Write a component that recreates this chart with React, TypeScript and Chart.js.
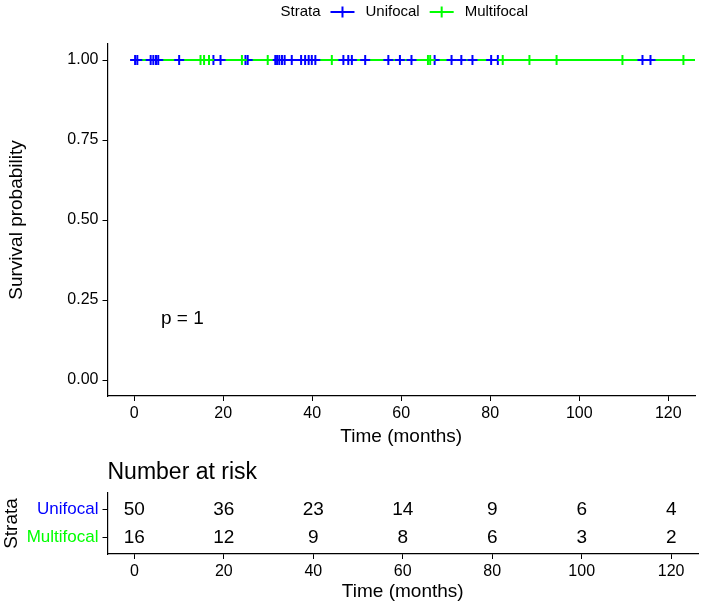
import React, { useEffect, useRef } from "react";
import { Chart, registerables } from "chart.js";

Chart.register(...registerables);

const FONT = "'Liberation Sans', Arial, Helvetica, sans-serif";
const BLUE = "#0000FF";
const GREEN = "#00FF00";

// ---- data ----
const strataNames = ["Unifocal", "Multifocal"];
const strataColors = [BLUE, GREEN];

// Kaplan-Meier step curves (time, survival)
const unifocalCurveTimes = [0, 116.0];
const unifocalCurveSurv = [1, 1];
const multifocalCurveTimes = [0, 126.0];
const multifocalCurveSurv = [1, 1];

// censoring times (months)
const unifocalCensorTimes = [
  0.2, 0.7, 3.7, 4.3, 4.9, 5.4, 10.1, 17.8, 19.4, 25.0, 25.5, 31.7, 32.1, 32.6,
  33.2, 33.8, 35.4, 37.5, 38.4, 39.2, 39.9, 40.7, 47.0, 48.1, 48.9, 51.9, 57.1,
  59.7, 62.3, 67.5, 71.3, 73.5, 76.0, 80.2, 81.7, 114.2, 116.0,
];
const multifocalCensorTimes = [
  14.9, 15.7, 16.8, 24.2, 30.0, 44.4, 66.0, 66.5, 82.8, 88.8, 94.9, 109.7, 123.4,
];

const survTicks = [0, 0.25, 0.5, 0.75, 1];
const timeTicks = [0, 20, 40, 60, 80, 100, 120];

// risk table
const riskTimes = [0, 20, 40, 60, 80, 100, 120];
const unifocalAtRisk = [50, 36, 23, 14, 9, 6, 4];
const multifocalAtRisk = [16, 12, 9, 8, 6, 3, 2];
const riskRowIndex = [2, 1]; // Unifocal top row, Multifocal bottom row

const pValueLabel = "p = 1";
const pValueX = 6;
const pValueY = 0.19;

function survAt(times: number[], surv: number[], t: number) {
  let s = surv[0];
  for (let i = 0; i < times.length; i++) if (times[i] <= t) s = surv[i];
  return s;
}

const legendPlugin = {
  id: "kmLegend",
  afterDraw(chart: any) {
    const ctx = chart.ctx;
    const ca = chart.chartArea;
    ctx.save();
    ctx.font = `15px ${FONT}`;
    ctx.textBaseline = "middle";
    ctx.textAlign = "left";
    const keyW = 24;
    const gapTitle = 10;
    const gapKey = 11;
    const gapItem = 10;
    const titleW = ctx.measureText("Strata").width;
    let total = titleW + gapTitle;
    strataNames.forEach((n, i) => {
      total += keyW + gapKey + ctx.measureText(n).width;
      if (i < strataNames.length - 1) total += gapItem;
    });
    let x = (ca.left + ca.right) / 2 + 3 - total / 2;
    const y = 12;
    ctx.fillStyle = "#000";
    ctx.fillText("Strata", x, y);
    x += titleW + gapTitle;
    strataNames.forEach((n, i) => {
      ctx.strokeStyle = strataColors[i];
      ctx.lineWidth = 2;
      ctx.beginPath();
      ctx.moveTo(x, y);
      ctx.lineTo(x + keyW, y);
      ctx.moveTo(x + keyW / 2, y - 5.5);
      ctx.lineTo(x + keyW / 2, y + 5.5);
      ctx.stroke();
      x += keyW + gapKey;
      ctx.fillStyle = "#000";
      ctx.fillText(n, x, y);
      x += ctx.measureText(n).width + gapItem;
    });
    ctx.restore();
  },
};

const pValuePlugin = {
  id: "pValue",
  afterDatasetsDraw(chart: any) {
    const ctx = chart.ctx;
    const px = chart.scales.x.getPixelForValue(pValueX);
    const py = chart.scales.y.getPixelForValue(pValueY);
    ctx.save();
    ctx.font = `19px ${FONT}`;
    ctx.fillStyle = "#000";
    ctx.textAlign = "left";
    ctx.textBaseline = "middle";
    ctx.fillText(pValueLabel, px, py);
    ctx.restore();
  },
};

const riskPlugin = {
  id: "riskText",
  afterDatasetsDraw(chart: any) {
    const ctx = chart.ctx;
    const ca = chart.chartArea;
    ctx.save();
    ctx.fillStyle = "#000";
    ctx.font = `23px ${FONT}`;
    ctx.textAlign = "left";
    ctx.textBaseline = "middle";
    ctx.fillText("Number at risk", ca.left, 13);
    ctx.font = `19px ${FONT}`;
    ctx.textAlign = "center";
    chart.data.datasets.forEach((ds: any, i: number) => {
      const meta = chart.getDatasetMeta(i);
      meta.data.forEach((el: any, j: number) => {
        ctx.fillText(String(ds.riskValues[j]), el.x, el.y);
      });
    });
    ctx.restore();
  },
};

function xScale(height: number, titleBottomPad: number) {
  return {
    type: "linear",
    min: -6,
    max: 126,
    afterBuildTicks: (s: any) => {
      s.ticks = timeTicks.map((v) => ({ value: v }));
    },
    afterFit: (s: any) => {
      s.height = height;
    },
    grid: { drawOnChartArea: false, drawTicks: true, tickLength: 5, color: "#000", lineWidth: 1 },
    border: { color: "#000", width: 1.2 },
    ticks: { font: { family: FONT, size: 16 }, color: "#000", padding: 3, maxRotation: 0, autoSkip: false },
    title: {
      display: true,
      text: "Time (months)",
      font: { family: FONT, size: 19 },
      color: "#000",
      padding: { top: 0, bottom: titleBottomPad },
    },
  };
}

export default function App() {
  const mainRef = useRef<HTMLCanvasElement | null>(null);
  const riskRef = useRef<HTMLCanvasElement | null>(null);

  useEffect(() => {
    const curve = (times: number[], surv: number[]) => times.map((t, i) => ({ x: t, y: surv[i] }));
    const marks = (ct: number[], times: number[], surv: number[]) =>
      ct.map((t) => ({ x: t, y: survAt(times, surv, t) }));

    const main = new Chart(mainRef.current as HTMLCanvasElement, {
      type: "scatter",
      data: {
        datasets: [
          {
            label: "Unifocal",
            data: curve(unifocalCurveTimes, unifocalCurveSurv),
            showLine: true,
            stepped: true,
            borderColor: BLUE,
            borderWidth: 2,
            pointRadius: 0,
            order: 3,
          },
          {
            label: "Multifocal",
            data: curve(multifocalCurveTimes, multifocalCurveSurv),
            showLine: true,
            stepped: true,
            borderColor: GREEN,
            borderWidth: 2,
            pointRadius: 0,
            order: 2,
          },
          {
            label: "Unifocal censored",
            data: marks(unifocalCensorTimes, unifocalCurveTimes, unifocalCurveSurv),
            showLine: false,
            pointStyle: "cross",
            pointRadius: 5,
            pointBorderWidth: 2,
            pointBorderColor: BLUE,
            pointBackgroundColor: BLUE,
            order: 1,
          },
          {
            label: "Multifocal censored",
            data: marks(multifocalCensorTimes, multifocalCurveTimes, multifocalCurveSurv),
            showLine: false,
            pointStyle: "cross",
            pointRadius: 5,
            pointBorderWidth: 2,
            pointBorderColor: GREEN,
            pointBackgroundColor: GREEN,
            order: 0,
          },
        ] as any,
      },
      options: {
        animation: false,
        responsive: false,
        events: [],
        layout: { padding: { top: 44, right: 4, left: 0, bottom: 0 } },
        plugins: { legend: { display: false }, tooltip: { enabled: false } },
        scales: {
          x: xScale(64, 11.6) as any,
          y: {
            type: "linear",
            min: -0.05,
            max: 1.05,
            afterBuildTicks: (s: any) => {
              s.ticks = survTicks.map((v) => ({ value: v }));
            },
            afterFit: (s: any) => {
              s.width = 107.5;
            },
            grid: { drawOnChartArea: false, drawTicks: true, tickLength: 5, color: "#000", lineWidth: 1 },
            border: { color: "#000", width: 1.2 },
            ticks: {
              font: { family: FONT, size: 16 },
              color: "#000",
              padding: 4,
              callback: (v: any) => Number(v).toFixed(2),
            },
            title: {
              display: true,
              text: "Survival probability",
              font: { family: FONT, size: 19 },
              color: "#000",
              padding: { top: 5, bottom: 0 },
            },
          },
        },
      },
      plugins: [legendPlugin, pValuePlugin],
    });

    const risk = new Chart(riskRef.current as HTMLCanvasElement, {
      type: "scatter",
      data: {
        datasets: [
          {
            label: "Unifocal",
            data: riskTimes.map((t) => ({ x: t, y: riskRowIndex[0] })),
            riskValues: unifocalAtRisk,
            pointRadius: 0,
          },
          {
            label: "Multifocal",
            data: riskTimes.map((t) => ({ x: t, y: riskRowIndex[1] })),
            riskValues: multifocalAtRisk,
            pointRadius: 0,
          },
        ] as any,
      },
      options: {
        animation: false,
        responsive: false,
        events: [],
        layout: { padding: { top: 33, right: 4, left: 0, bottom: 0 } },
        plugins: { legend: { display: false }, tooltip: { enabled: false } },
        scales: {
          x: xScale(53, 3.6) as any,
          y: {
            type: "linear",
            min: 0.4,
            max: 2.6,
            afterBuildTicks: (s: any) => {
              s.ticks = riskRowIndex.map((v) => ({ value: v }));
            },
            afterFit: (s: any) => {
              s.width = 107.5;
            },
            grid: { drawOnChartArea: false, drawTicks: true, tickLength: 5, color: "#000", lineWidth: 1 },
            border: { color: "#000", width: 1.2 },
            ticks: {
              font: { family: FONT, size: 17 },
              padding: 4,
              color: (c: any) => strataColors[riskRowIndex.indexOf(c.tick.value)] || "#000",
              callback: (v: any) => strataNames[riskRowIndex.indexOf(Number(v))] ?? "",
            },
            title: {
              display: true,
              text: "Strata",
              font: { family: FONT, size: 19 },
              color: "#000",
              padding: { top: 0, bottom: 0 },
            },
          },
        },
      },
      plugins: [riskPlugin],
    });

    return () => {
      main.destroy();
      risk.destroy();
    };
  }, []);

  return (
    <div style={{ position: "absolute", left: 0, top: 0, width: 702, height: 607, background: "#fff" }}>
      <canvas ref={mainRef} width={702} height={460} style={{ position: "absolute", left: 0, top: 0, display: "block" }} />
      <canvas ref={riskRef} width={702} height={147} style={{ position: "absolute", left: 0, top: 460, display: "block" }} />
    </div>
  );
}
